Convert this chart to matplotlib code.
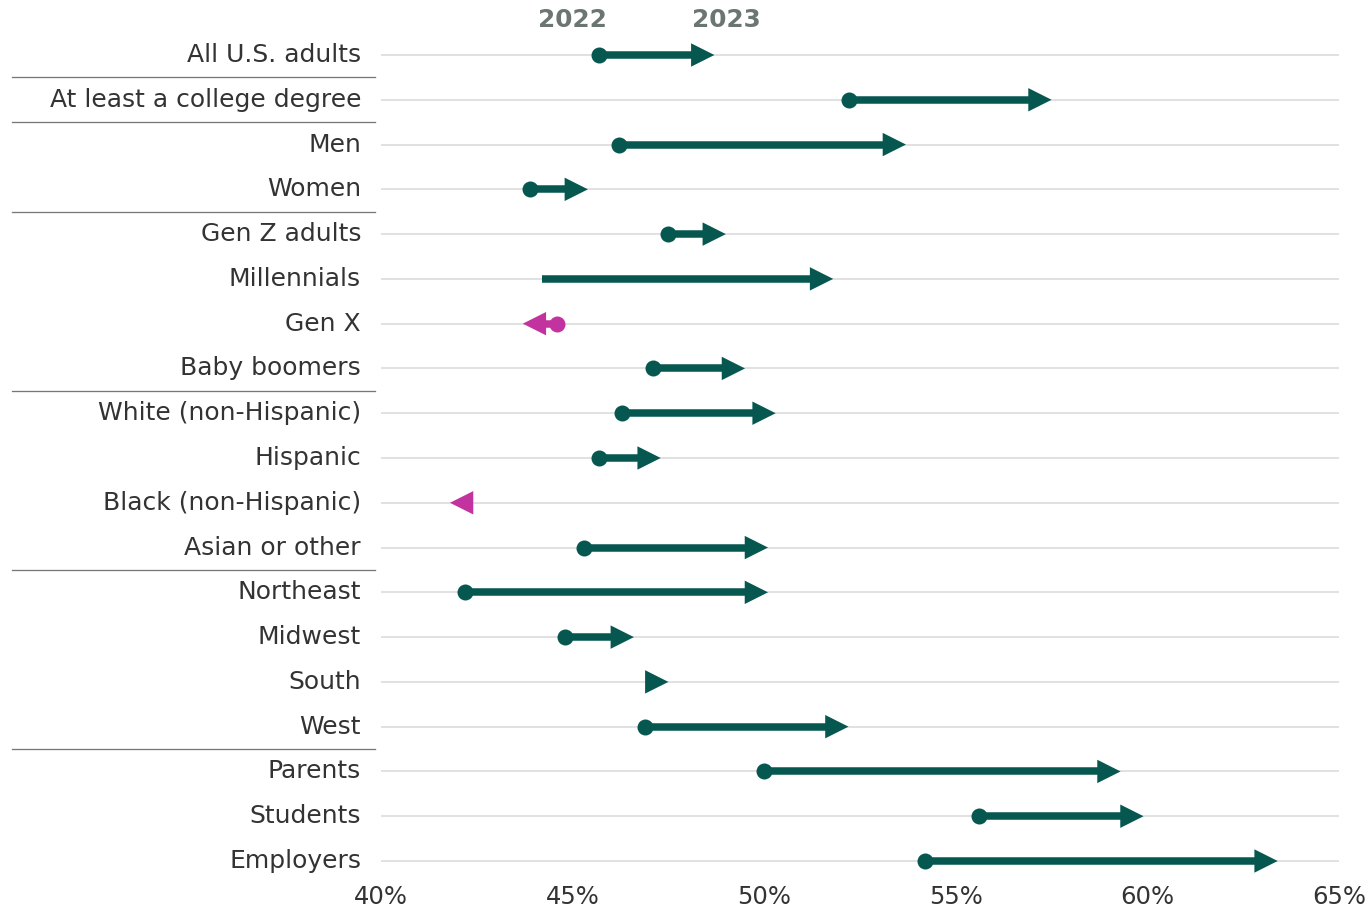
import matplotlib
matplotlib.use("Agg")
import matplotlib.pyplot as plt
from matplotlib.patches import Polygon
import matplotlib.transforms as mtransforms

categories = ["All U.S. adults", "At least a college degree", "Men", "Women",
              "Gen Z adults", "Millennials", "Gen X", "Baby boomers",
              "White (non-Hispanic)", "Hispanic", "Black (non-Hispanic)", "Asian or other",
              "Northeast", "Midwest", "South", "West",
              "Parents", "Students", "Employers"]
values_2022 = [45.7, 52.2, 46.2, 43.9, 47.5, 44.2, 44.6, 47.1, 46.3, 45.7, 42.2, 45.3,
               42.2, 44.8, 47.1, 46.9, 50.0, 55.6, 54.2]
values_2023 = [48.7, 57.5, 53.7, 45.4, 49.0, 51.8, 43.7, 49.5, 50.3, 47.3, 41.8, 50.1,
               50.1, 46.6, 47.5, 52.2, 59.3, 59.9, 63.4]
no_dot = ["Millennials", "Black (non-Hispanic)", "South"]
group_breaks = [0, 1, 3, 7, 11, 15]   # separator after these rows
x_ticks = [40, 45, 50, 55, 60, 65]
x_tick_labels = ["40%", "45%", "50%", "55%", "60%", "65%"]
header_labels = ["2022", "2023"]
header_x = [45.0, 49.0]

TEAL = "#065750"
MAGENTA = "#c3339f"
GRID = "#e1e1e1"
TEXT = "#333333"
HEADER = "#6b7572"
FONT = ["DejaVu Sans"]

plt.rcParams['font.family'] = FONT

W, H = 1371, 911
fig = plt.figure(figsize=(W / 100, H / 100), dpi=100)
ax_left, ax_right = 381 / W, 1339 / W
row_px = 44.78
top_px = 55 - 0.5 * row_px
bot_px = 861 + 0.5 * row_px
ax = fig.add_axes([ax_left, 1 - bot_px / H, ax_right - ax_left, (bot_px - top_px) / H])

n = len(categories)
xmin, xmax = 40, 65
ax.set_xlim(xmin, xmax)
ax.set_ylim(n - 0.5, -0.5)

px_per_x = (1339 - 381) / (xmax - xmin)
head_len = 23.3 / px_per_x
head_half = 11.7 / row_px
line_w = 7.5 * 72 / 100
dot_r_px = 8.0

ys = list(range(n))
ax.hlines(ys, xmin, xmax, color=GRID, linewidth=2.0 * 72 / 100, zorder=1)

for i, (cat, a, b) in enumerate(zip(categories, values_2022, values_2023)):
    color = TEAL if b >= a else MAGENTA
    direction = 1 if b >= a else -1
    base = b - direction * head_len
    if (base - a) * direction > 0:
        ax.plot([a, base + direction * 0.05], [i, i], color=color, linewidth=line_w,
                solid_capstyle='butt', zorder=3)
    if cat not in no_dot:
        ax.plot([a], [i], marker='o', markersize=2 * dot_r_px * 72 / 100, color=color,
                markeredgewidth=0, zorder=4)
    tri = Polygon([[b, i], [base, i - head_half], [base, i + head_half]], closed=True,
                  facecolor=color, edgecolor='none', zorder=5)
    ax.add_patch(tri)

ax.set_yticks(ys)
ax.set_yticklabels(categories, fontsize=18, color=TEXT, va='center')
ax.set_xticks(x_ticks)
ax.set_xticklabels(x_tick_labels, fontsize=17.5, color=TEXT)
ax.tick_params(axis='y', length=0, pad=20 * 72 / 100)
ax.tick_params(axis='x', length=0, pad=1)
for s in ax.spines.values():
    s.set_visible(False)

trans = mtransforms.blended_transform_factory(fig.transFigure, ax.transData)
for g in group_breaks:
    ax.plot([12 / W, 375 / W], [g + 0.5, g + 0.5], transform=trans, color="#777777",
            linewidth=1.3 * 72 / 100, clip_on=False, zorder=2)

for lab, hx in zip(header_labels, header_x):
    ax.text(hx, -0.78, lab, ha='center', va='center', fontsize=17.8, fontweight='bold',
            color=HEADER, clip_on=False)

fig.savefig("out.png", dpi=100)
